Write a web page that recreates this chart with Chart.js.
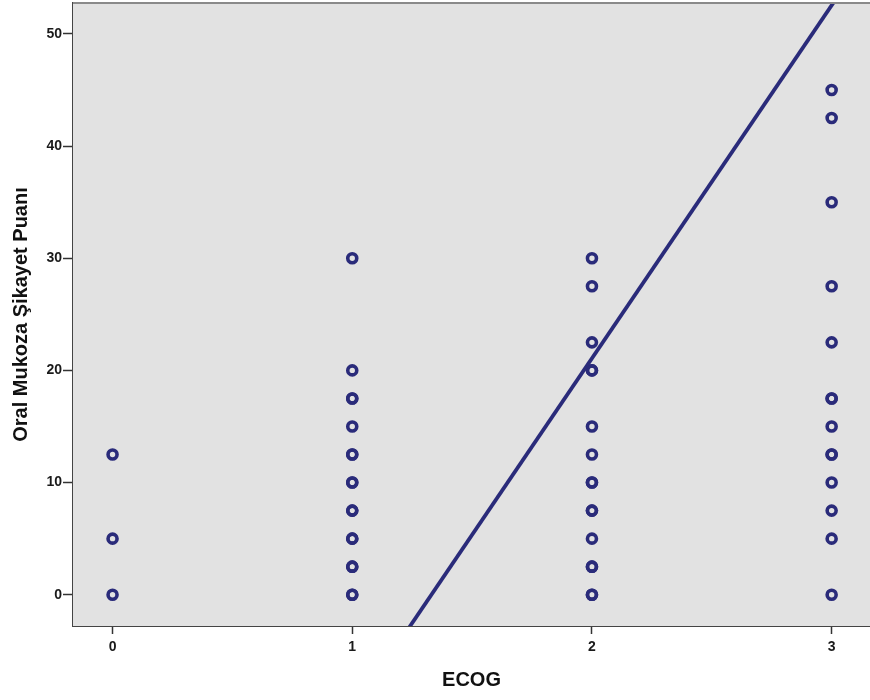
<!DOCTYPE html>
<html>
<head>
<meta charset="utf-8">
<script src="https://cdn.jsdelivr.net/npm/chart.js@4/dist/chart.umd.min.js"></script>
<style>
  html, body { margin: 0; padding: 0; background: #ffffff; }
  #wrap { width: 870px; height: 700px; }
</style>
</head>
<body>
<div id="wrap"><canvas id="scatter" width="870" height="700"></canvas></div>
<script>
// ECOG groups and the complaint scores (repeats = overplotted points)
const ecogLevels = [0, 1, 2, 3];
const scoresEcog0 = [0, 5, 12.5];
const scoresEcog1 = [0, 0, 2.5, 2.5, 5, 5, 7.5, 7.5, 10, 10, 12.5, 12.5, 15, 17.5, 17.5, 20, 30];
const scoresEcog2 = [0, 0, 2.5, 2.5, 5, 7.5, 7.5, 10, 10, 12.5, 15, 20, 20, 22.5, 27.5, 30];
const scoresEcog3 = [0, 5, 7.5, 10, 12.5, 12.5, 15, 17.5, 17.5, 22.5, 27.5, 35, 42.5, 45];

// fit line end points
const fitX = [1.2, 3.1];
const fitY = [-4.1, 55.7];

const xTicks = [0, 1, 2, 3];
const yTicks = [0, 10, 20, 30, 40, 50];

const navy = '#2a2b7a';

const groups = [scoresEcog0, scoresEcog1, scoresEcog2, scoresEcog3];
const points = [];
groups.forEach((list, i) => {
    list.forEach(v => points.push({ x: ecogLevels[i], y: v }));
});
const fitPoints = fitX.map((x, i) => ({ x, y: fitY[i] }));

// gray plot background + thin top frame
const plotBg = {
    id: 'plotBg',
    beforeDatasetsDraw(chart) {
        const { ctx, chartArea: a } = chart;
        ctx.save();
        ctx.fillStyle = '#e2e2e2';
        ctx.fillRect(a.left, a.top, a.right - a.left, a.bottom - a.top);
        ctx.restore();
    },
    afterDraw(chart) {
        const { ctx, chartArea: a } = chart;
        ctx.save();
        ctx.strokeStyle = '#8a8a8a';
        ctx.lineWidth = 2;
        ctx.beginPath();
        ctx.moveTo(a.left, a.top);
        ctx.lineTo(a.right, a.top);
        ctx.stroke();
        ctx.restore();
    }
};

const tickFont = { family: 'Arial, "Liberation Sans", sans-serif', size: 14, weight: 'bold' };
const titleFont = { family: 'Arial, "Liberation Sans", sans-serif', size: 20, weight: 'bold' };

new Chart(document.getElementById('scatter'), {
    type: 'scatter',
    data: {
        datasets: [
            {
                label: 'Fit',
                data: fitPoints,
                showLine: true,
                borderColor: navy,
                borderWidth: 3.8,
                pointRadius: 0,
                clip: 0,
                order: 0
            },
            {
                label: 'Oral Mukoza Şikayet Puanı',
                data: points,
                pointStyle: 'circle',
                pointRadius: 4.5,
                pointBorderWidth: 3.6,
                pointBorderColor: navy,
                pointBackgroundColor: 'rgba(0,0,0,0)',
                order: 1
            }
        ]
    },
    options: {
        responsive: false,
        animation: false,
        layout: { autoPadding: false, padding: { top: 3, right: 0, left: 0, bottom: 0 } },
        plugins: { legend: { display: false }, tooltip: { enabled: false } },
        scales: {
            x: {
                type: 'linear',
                min: -0.165,
                max: 3.16,
                afterBuildTicks: s => { s.ticks = xTicks.map(v => ({ value: v })); },
                afterFit: s => { s.height = 74; s.paddingLeft = 0; s.paddingRight = 0; },
                grid: { drawOnChartArea: false, drawTicks: true, tickLength: 8, tickWidth: 1.5, color: '#333' },
                border: { display: true, color: '#444', width: 2 },
                ticks: { color: '#1a1a1a', font: tickFont, padding: 5 },
                title: { display: true, text: 'ECOG', color: '#111', font: titleFont, padding: { top: 4, bottom: 8 } }
            },
            y: {
                type: 'linear',
                min: -2.79,
                max: 52.76,
                afterBuildTicks: s => { s.ticks = yTicks.map(v => ({ value: v })); },
                afterFit: s => { s.width = 73; s.paddingTop = 0; s.paddingBottom = 0; },
                grid: { drawOnChartArea: false, drawTicks: true, tickLength: 10, tickWidth: 1.5, color: '#333' },
                border: { display: true, color: '#444', width: 2 },
                ticks: { color: '#1a1a1a', font: tickFont, padding: 1 },
                title: { display: true, text: 'Oral Mukoza Şikayet Puanı', color: '#111', font: titleFont, padding: { top: 9, bottom: 4 } }
            }
        }
    },
    plugins: [plotBg]
});
</script>
</body>
</html>
